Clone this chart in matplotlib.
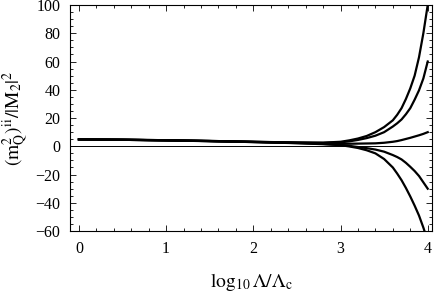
import matplotlib
matplotlib.use("Agg")
import matplotlib.pyplot as plt
from matplotlib.ticker import MultipleLocator

plt.rcParams['font.family'] = ['Liberation Serif', 'DejaVu Serif']
plt.rcParams['mathtext.fontset'] = 'stix'

# x = log10(Lambda/Lambda_c)
x = [0, 0.5, 1, 1.5, 2, 2.5, 2.8, 3.0, 3.1, 3.2, 3.3, 3.4, 3.5, 3.6, 3.65,
     3.7, 3.75, 3.8, 3.85, 3.9, 3.95, 4.0]

curve_a = [4.9, 4.7, 4.3, 3.8, 3.2, 2.7, 2.6, 3.2, 4.2, 5.5, 7.3, 10.0, 13.6, 18.4, 22.3,
           27.0, 33.5, 41.0, 50.0, 63.0, 80.0, 100.0]
curve_b = [4.9, 4.7, 4.3, 3.8, 3.2, 2.6, 2.4, 2.8, 3.5, 4.5, 5.8, 7.5, 10.0, 14.0, 16.3,
           19.0, 22.7, 27.0, 33.0, 39.6, 48.0, 60.0]
curve_c = [4.9, 4.6, 4.2, 3.7, 3.1, 2.5, 2.1, 1.8, 1.8, 1.9, 2.0, 2.1, 2.5, 3.2, 3.7,
           4.4, 5.2, 6.0, 6.9, 7.8, 8.8, 10.0]
curve_d = [4.9, 4.6, 4.2, 3.7, 3.0, 2.3, 1.7, 1.0, 0.3, -0.5, -1.3, -2.3, -3.8, -6.2, -7.6,
           -9.3, -11.7, -14.5, -17.5, -21.0, -25.5, -30.0]
curve_e = [4.9, 4.6, 4.2, 3.6, 3.0, 2.2, 1.5, 0.8, -0.1, -1.2, -2.8, -5.0, -9.0, -15.0, -19.3,
           -24.0, -29.5, -35.5, -42.0, -49.0, -57.5, -67.0]

series = [curve_a, curve_b, curve_c, curve_d, curve_e]

fig = plt.figure(figsize=(4.36, 2.94), dpi=100)
ax = fig.add_axes([0.161, 0.214, 0.830, 0.769])

ax.axhline(0, color='black', lw=0.7)
for ys in series:
    ax.plot(x, ys, color='black', lw=1.6)

ax.set_xlim(-0.1, 4.05)
ax.set_ylim(-60, 100)
ax.xaxis.set_major_locator(MultipleLocator(1))
ax.xaxis.set_minor_locator(MultipleLocator(0.2))
ax.yaxis.set_major_locator(MultipleLocator(20))
ax.yaxis.set_minor_locator(MultipleLocator(5))
ax.tick_params(which='both', direction='in', top=True, right=True, labelsize=11.5, width=0.6)
ax.tick_params(which='major', length=4, pad=7)
ax.tick_params(which='minor', length=2)
for s in ax.spines.values():
    s.set_linewidth(0.8)

ax.set_xlabel(r'$\log_{10}\Lambda/\Lambda_{\mathrm{c}}$', fontsize=14, labelpad=10)
ax.set_ylabel(r'$(\mathrm{m}_{\mathrm{Q}}^{2})^{\mathrm{ii}}/|\mathrm{M}_{2}|^{2}$', fontsize=14, labelpad=4)

fig.savefig('out.png', dpi=100)
